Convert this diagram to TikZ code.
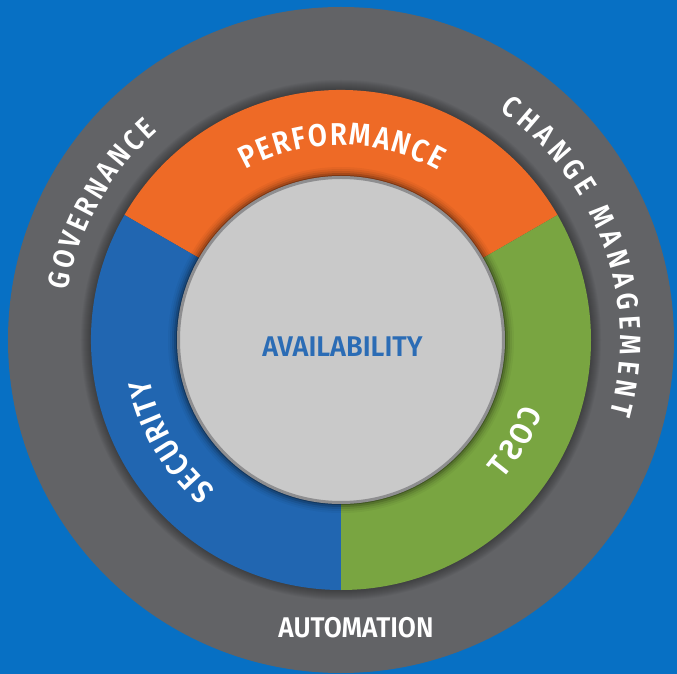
\documentclass[tikz,border=0pt]{standalone}
\usepackage{fontspec}
\IfFontExistsTF{Fira Sans SemiBold}
  {\newfontfamily\lf{Fira Sans SemiBold}\newfontfamily\lfn{Fira Sans SemiBold}[FakeStretch=0.88]}
  {\newfontfamily\lf{Fira Sans}[UprightFont=* Bold]\newfontfamily\lfn{Fira Sans}[UprightFont=* Bold, FakeStretch=0.88]}
\usetikzlibrary{decorations.text}
\definecolor{bgblue}{HTML}{0770C4}
\definecolor{ringgray}{HTML}{626366}
\definecolor{orng}{HTML}{EE6A26}
\definecolor{segblue}{HTML}{2166B1}
\definecolor{grn}{HTML}{79A541}
\definecolor{innergray}{HTML}{C9C9C9}
\definecolor{rimgray}{HTML}{8E8E90}
\definecolor{availblue}{HTML}{2B6CB5}
\newcommand\lblfont{\lf\fontsize{28.5}{30}\selectfont}
\newcommand\outfont{\lfn\fontsize{29.5}{31}\selectfont}
\newcommand\bigfont{\lfn\fontsize{31.5}{33}\selectfont}
\tikzset{
  lbl/.style={font=\lblfont, text=white, inner sep=0pt},
  arctext/.style={decorate, decoration={text along path, text={|\outfont|#1},
     text color=white, text align={fit to path}}},
  bigarctext/.style={decorate, decoration={text along path, text={|\bigfont|#1},
     text color=white, text align={fit to path}}}
}
\begin{document}
\begin{tikzpicture}
\useasboundingbox (-341pt,-334pt) rectangle (336pt,340pt);
\fill[bgblue] (-341pt,-334pt) rectangle (336pt,340pt);
% outer ring
\fill[ringgray] (0,0) circle[radius=333pt];
\foreach \r in {251,...,260} \fill[black,opacity=0.035] (0,0) circle[radius=\r pt];
% middle ring sectors
\fill[orng] (0,0) -- (30:250pt) arc[start angle=30, end angle=150, radius=250pt] -- cycle;
\fill[segblue] (0,0) -- (150:250pt) arc[start angle=150, end angle=270, radius=250pt] -- cycle;
\fill[grn] (0,0) -- (270:250pt) arc[start angle=270, end angle=390, radius=250pt] -- cycle;
% inner circle with shadow
\foreach \r/\o in {173/0.04,171/0.06,169/0.09,167/0.14,165/0.25} \fill[black,opacity=\o] (0,0) circle[radius=\r pt];
\fill[innergray] (0,0) circle[radius=162pt];
\draw[rimgray, line width=3pt] (0,0) circle[radius=162.5pt];
% texts
\node[lbl, text=availblue, xscale=0.95] (avail) at (1.5pt,-6.3pt) {AVAILABILITY};
\node[lbl, xscale=0.92] (auto) at (15pt,-288pt) {AUTOMATION};
\path[bigarctext=PERFORMANCE] (119.4:195pt) arc[start angle=119.4, end angle=60.2, radius=195pt];
\path[bigarctext=SECURITY] (229.9:195pt) arc[start angle=229.9, end angle=191.6, radius=195pt];
\path[arctext=GOVERNANCE] (169.7:278pt) arc[start angle=169.7, end angle=131.2, radius=278pt];
\path[arctext={CHANGE MANAGEMENT}] (55.4:279pt) arc[start angle=55.4, end angle=-15.4, radius=279pt];
\foreach \ch/\a/\i in {C/-22/1,O/-27.5/2,S/-33/3,T/-38.5/4}
  \node[lbl, font=\bigfont, rotate=\a+90, xscale=-1] (cost\i) at (\a:203pt) {\ch};
\end{tikzpicture}
\end{document}
